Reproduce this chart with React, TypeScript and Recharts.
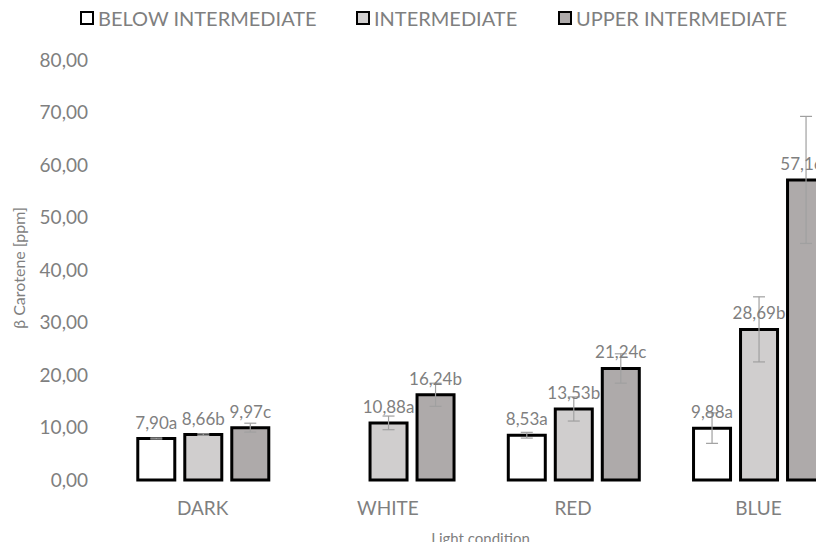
import { BarChart, Bar, XAxis, YAxis, ErrorBar, LabelList, Label } from "recharts";

const categories = ["DARK", "WHITE", "RED", "BLUE"];
const belowValues = [7.9, null, 8.53, 9.88];
const belowErrors = [0.1, null, 0.55, 2.9];
const belowLetters = ["a", "", "a", "a"];
const interValues = [8.66, 10.88, 13.53, 28.69];
const interErrors = [0.15, 1.3, 2.3, 6.2];
const interLetters = ["b", "a", "b", "b"];
const upperValues = [9.97, 16.24, 21.24, 57.16];
const upperErrors = [0.85, 2.2, 2.8, 12.1];
const upperLetters = ["c", "b", "c", "c"];
const yTicks = [0, 10, 20, 30, 40, 50, 60, 70, 80];

const series = [
    { key: "below", name: "BELOW INTERMEDIATE", fill: "#ffffff", values: belowValues, errors: belowErrors, letters: belowLetters, left: 80 },
    { key: "inter", name: "INTERMEDIATE", fill: "#d0cece", values: interValues, errors: interErrors, letters: interLetters, left: 356 },
    { key: "upper", name: "UPPER INTERMEDIATE", fill: "#aeaaaa", values: upperValues, errors: upperErrors, letters: upperLetters, left: 558 },
];

const fmt = (v: number) => v.toFixed(2).replace(".", ",");

// one row per light condition, with value, error and label text for each series
const data = categories.map((c, i) => {
    const row: any = { name: c };
    series.forEach((s) => {
        const v = s.values[i];
        row[s.key] = v;
        row[s.key + "Err"] = s.errors[i];
        row[s.key + "Label"] = v == null ? null : fmt(v) + s.letters[i];
    });
    return row;
});

const textGrey = "#7f7f7f";

const renderLabel = (props: any) => {
    const { x, y, width, value } = props;
    if (value == null) return null;
    return (
        <text x={x + width / 2} y={y - 10} textAnchor="middle" fill={textGrey} fontSize={17}>
            {value}
        </text>
    );
};

export default function App() {
    return (
        <div
            style={{
                position: "relative",
                margin: -8,
                width: 824,
                height: 550,
                overflow: "hidden",
                fontFamily: "Lato, sans-serif",
                background: "#fff",
            }}
        >
            {/* legend */}
            {series.map((s) => (
                <div
                    key={s.key}
                    style={{
                        position: "absolute",
                        top: 6,
                        left: s.left,
                        display: "flex",
                        alignItems: "center",
                        gap: 4,
                        fontSize: 20,
                        color: textGrey,
                        zIndex: 2,
                    }}
                >
                    <span
                        style={{
                            display: "inline-block",
                            width: 10,
                            height: 10,
                            border: "2px solid #000",
                            background: s.fill,
                        }}
                    />
                    <span>{s.name}</span>
                </div>
            ))}

            <BarChart
                width={870}
                height={550}
                data={data}
                margin={{ top: 60, right: 19, bottom: 0, left: 0 }}
                barCategoryGap="15%"
                barGap={10}
            >
                <XAxis
                    dataKey="name"
                    axisLine={false}
                    tickLine={false}
                    tickMargin={16}
                    height={70}
                    tick={{ fill: textGrey, fontSize: 19 }}
                >
                    <Label value="Light condition" position="insideBottom" offset={6} fill={textGrey} fontSize={15} />
                </XAxis>
                <YAxis
                    width={110}
                    domain={[0, 80]}
                    ticks={yTicks}
                    axisLine={false}
                    tickLine={false}
                    tickMargin={16}
                    tickFormatter={fmt}
                    tick={{ fill: textGrey, fontSize: 19 }}
                    label={{
                        content: (p: any) => {
                            const vb = p.viewBox;
                            const cx = 21;
                            const cy = vb.y + vb.height / 2 - 2;
                            return (
                                <text
                                    x={cx}
                                    y={cy}
                                    transform={`rotate(-90 ${cx} ${cy})`}
                                    textAnchor="middle"
                                    dominantBaseline="middle"
                                    fill={textGrey}
                                    fontSize={16}
                                >
                                    β Carotene [ppm]
                                </text>
                            );
                        },
                    }}
                />
                {series.map((s) => (
                    <Bar
                        key={s.key}
                        dataKey={s.key}
                        name={s.name}
                        fill={s.fill}
                        stroke="#000"
                        strokeWidth={3}
                        isAnimationActive={false}
                    >
                        <LabelList dataKey={s.key + "Label"} content={renderLabel} />
                        <ErrorBar
                            dataKey={s.key + "Err"}
                            direction="y"
                            width={6}
                            stroke="#a0a0a0"
                            strokeWidth={1.2}
                        />
                    </Bar>
                ))}
            </BarChart>
        </div>
    );
}
